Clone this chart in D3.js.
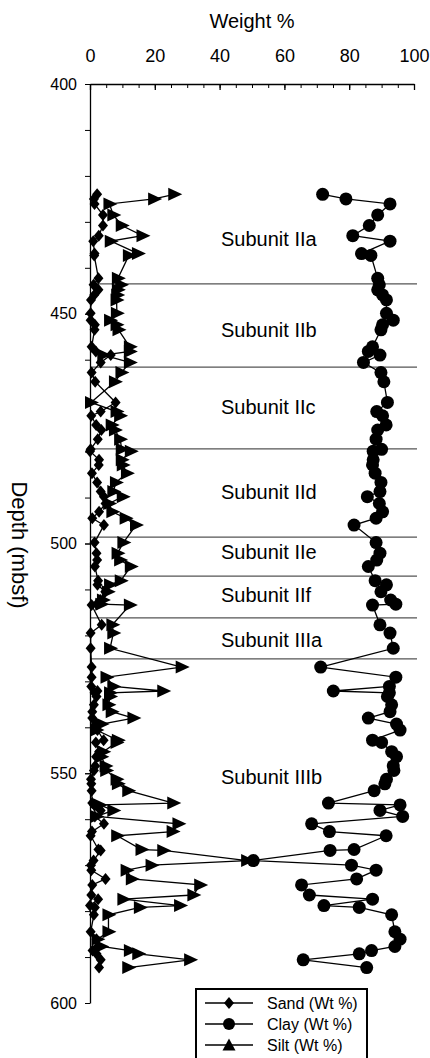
<!DOCTYPE html>
<html>
<head>
<meta charset="utf-8">
<script src="https://cdn.jsdelivr.net/npm/d3@7"></script>
<style>
    body { margin: 0; background: #fff; }
    svg { display: block; font-family: Arial, "Liberation Sans", sans-serif; }
</style>
</head>
<body>
<svg></svg>
<script>
const width = 430;
const height = 1058;

// sample depth (mbsf) and grain size fractions (wt %)
const depth = [424.0, 425.0, 426.1, 428.5, 430.8, 433.0, 434.2, 436.9, 437.3, 442.3,
    443.7, 444.8, 445.9, 447.0, 449.9, 451.4, 452.4, 453.5, 457.2, 458.2,
    459.0, 460.6, 462.8, 464.8, 469.3, 471.3, 472.2, 474.2, 475.3, 477.3,
    479.5, 479.9, 481.8, 482.9, 484.7, 486.7, 488.7, 489.8, 491.3, 493.1,
    494.5, 496.0, 499.8, 502.1, 503.6, 505.0, 508.1, 509.0, 510.5, 512.3,
    513.2, 513.4, 517.7, 519.5, 522.8, 526.9, 529.1, 531.1, 532.1, 532.5,
    533.3, 535.1, 536.6, 538.0, 539.3, 540.6, 542.8, 543.3, 545.3, 546.4,
    548.4, 549.4, 551.3, 552.3, 553.8, 556.5, 556.9, 558.1, 559.4, 561.0,
    562.7, 563.6, 566.6, 566.8, 569.0, 570.0, 571.1, 573.0, 574.3, 576.5,
    577.4, 578.8, 579.2, 580.8, 584.5, 586.1, 587.7, 588.6, 589.3, 590.6,
    592.3];

const sand = [2.2, 1.2, 1.4, 4.0, 4.0, 2.7, 1.0, 1.4, 1.3, 2.6,
    1.1, 2.6, 1.3, 0.3, 0.2, 0.2, 1.5, 1.4, 0.5, 1.8,
    6.4, 3.3, 0.5, 1.6, 7.9, 3.3, 0.4, 1.9, 3.5, 2.4,
    0.2, 0.0, 2.8, 2.7, 0.6, 2.2, 3.3, 4.3, 4.8, 2.8,
    0.7, 4.3, 1.4, 2.0, 2.2, 1.5, 2.5, 2.3, 4.7, 3.2,
    2.1, 0.5, 3.6, 0.2, 0.2, 0.5, 0.5, 0.4, 2.3, 1.4,
    2.0, 1.2, 0.7, 0.7, 1.8, 2.3, 4.2, 1.8, 2.8, 1.9,
    1.6, 1.2, 0.3, 0.4, 0.5, 0.7, 1.3, 3.3, 1.5, 4.3,
    0.6, 0.2, 2.6, 3.3, 1.1, 0.3, 0.4, 4.8, 0.7, 0.4,
    2.5, 0.0, 1.5, 1.2, 0.2, 2.0, 2.4, 0.8, 2.0, 3.3,
    2.8];

const clay = [71.8, 79.0, 92.6, 88.8, 86.2, 81.1, 92.6, 83.8, 86.7, 88.8,
    89.3, 88.8, 90.3, 91.5, 91.5, 93.6, 90.3, 89.8, 87.2, 85.9,
    89.5, 84.4, 89.8, 90.7, 91.8, 88.5, 90.3, 91.4, 88.8, 88.3,
    90.0, 87.4, 87.4, 87.2, 88.0, 89.8, 89.5, 85.6, 89.3, 90.3,
    88.3, 81.5, 88.3, 89.5, 88.5, 85.9, 88.0, 91.5, 89.8, 92.8,
    94.4, 87.2, 89.5, 92.6, 93.6, 71.2, 94.4, 92.4, 75.1, 92.4,
    91.8, 93.1, 92.6, 85.9, 94.6, 95.7, 87.2, 90.0, 93.1, 94.6,
    93.6, 93.8, 91.5, 91.0, 87.7, 73.6, 95.7, 89.5, 96.5, 68.4,
    73.9, 91.4, 81.5, 74.1, 50.4, 80.7, 88.3, 82.3, 65.3, 67.7,
    87.2, 72.2, 83.1, 93.1, 94.1, 95.7, 94.1, 86.9, 83.1, 65.8,
    85.4];

const silt = [26.0, 19.8, 6.0, 7.2, 9.8, 16.2, 6.4, 14.8, 12.0, 8.6,
    9.6, 8.6, 8.4, 8.2, 8.3, 6.2, 8.2, 8.8, 12.3, 12.3,
    4.1, 12.3, 9.7, 7.7, 0.3, 8.2, 9.3, 6.7, 7.7, 9.3,
    9.8, 12.6, 9.8, 10.1, 11.4, 8.0, 7.2, 10.1, 5.9, 6.9,
    11.0, 14.2, 10.3, 8.5, 9.3, 12.6, 9.5, 6.2, 5.5, 4.0,
    3.5, 12.3, 6.9, 7.2, 6.2, 28.3, 5.1, 7.2, 22.6, 6.2,
    6.2, 5.7, 6.7, 13.4, 3.6, 2.0, 8.6, 8.2, 4.1, 3.5,
    4.8, 5.0, 8.2, 8.6, 11.8, 25.7, 3.0, 7.2, 2.0, 27.3,
    25.5, 8.4, 15.9, 22.6, 48.5, 19.0, 11.3, 12.9, 34.0, 31.9,
    10.3, 27.8, 15.4, 5.7, 5.7, 2.3, 3.5, 12.3, 14.9, 30.9,
    11.8];

const xTickLabels = [0, 20, 40, 60, 80, 100];
const yTickLabels = [400, 450, 500, 550, 600];

const subunits = ["Subunit IIa", "Subunit IIb", "Subunit IIc", "Subunit IId",
    "Subunit IIe", "Subunit IIf", "Subunit IIIa", "Subunit IIIb"];
const subunitLabelDepth = [433.7, 453.5, 470.3, 488.8, 501.8, 511.2, 521.0, 550.8];
const boundaries = [443.5, 461.6, 479.4, 498.6, 507.1, 516.2, 525.1];

const seriesNames = ["Sand (Wt %)", "Clay (Wt %)", "Silt (Wt %)"];

const diamond = "M0,-6L5,0L0,6L-5,0Z";
const triRight = "M-6,-6.5L8,0L-6,6.5Z";
const triUp = "M0,-6.5L6.5,5.5L-6.5,5.5Z";

function makeChart() {

    const svg = d3.select("svg")
        .attr("width", width)
        .attr("height", height);

    const x = d3.scaleLinear().domain([0, 100]).range([90, 414]);
    const y = d3.scaleLinear().domain([400, 600]).range([84, 1003]);

    const rows = depth.map((d, i) => ({ depth: d, sand: sand[i], clay: clay[i], silt: silt[i] }));

    // subunit boundaries
    svg.append("g")
        .selectAll("line")
        .data(boundaries)
        .join("line")
        .attr("x1", x(0))
        .attr("x2", x(100) + 3)
        .attr("y1", d => y(d))
        .attr("y2", d => y(d))
        .attr("stroke", "#555")
        .attr("stroke-width", 1.2);

    svg.append("g")
        .selectAll("text")
        .data(subunits)
        .join("text")
        .attr("x", 221)
        .attr("y", (d, i) => y(subunitLabelDepth[i]))
        .attr("dy", "0.35em")
        .attr("font-size", 20)
        .text(d => d);

    // x axis on top, ticks pointing into the plot
    svg.append("g")
        .attr("transform", `translate(0,${y(400)})`)
        .call(d3.axisTop(x).tickValues(d3.range(0, 101, 5)).tickSize(-4).tickSizeOuter(0).tickFormat(""))
        .call(g => g.select(".domain").attr("stroke-width", 1.3));

    svg.append("g")
        .attr("transform", `translate(0,${y(400)})`)
        .call(d3.axisTop(x).tickValues(xTickLabels).tickSize(-6).tickSizeOuter(0).tickPadding(22))
        .call(g => g.select(".domain").remove())
        .call(g => g.selectAll(".tick line").attr("stroke-width", 1.3))
        .call(g => g.selectAll("text").attr("font-size", 18).attr("font-family", null).attr("fill", "#000"));

    // y axis
    svg.append("g")
        .attr("transform", `translate(${x(0)},0)`)
        .call(d3.axisLeft(y).tickValues(d3.range(400, 601, 10)).tickSize(5).tickSizeOuter(0).tickFormat(""))
        .call(g => g.select(".domain").attr("stroke-width", 1.3));

    svg.append("g")
        .attr("transform", `translate(${x(0)},0)`)
        .call(d3.axisLeft(y).tickValues(yTickLabels).tickSize(5).tickSizeOuter(0).tickPadding(8))
        .call(g => g.select(".domain").remove())
        .call(g => g.selectAll("text").attr("font-size", 16).attr("font-family", null).attr("fill", "#000"));

    svg.append("text")
        .attr("x", (x(0) + x(100)) / 2)
        .attr("y", 28)
        .attr("text-anchor", "middle")
        .attr("font-size", 20)
        .text("Weight %");

    svg.append("text")
        .attr("transform", "translate(12,545) rotate(90)")
        .attr("text-anchor", "middle")
        .attr("font-size", 22)
        .text("Depth (mbsf)");

    const series = [
        { key: "sand", shape: d => d.append("path").attr("d", diamond) },
        { key: "silt", shape: d => d.append("path").attr("d", triRight) },
        { key: "clay", shape: d => d.append("circle").attr("r", 6.5) }
    ];

    series.forEach(s => {
        const line = d3.line()
            .x(d => x(d[s.key]))
            .y(d => y(d.depth));

        svg.append("path")
            .datum(rows)
            .attr("fill", "none")
            .attr("stroke", "#000")
            .attr("stroke-width", 1.3)
            .attr("d", line);

        svg.append("g")
            .selectAll("g")
            .data(rows)
            .join("g")
            .attr("transform", d => `translate(${x(d[s.key])},${y(d.depth)})`)
            .call(s.shape)
            .attr("fill", "#000");
    });

    // legend, bottom edge runs off the picture
    const legend = svg.append("g")
        .attr("transform", "translate(196,989)");

    legend.append("rect")
        .attr("width", 171)
        .attr("height", 90)
        .attr("fill", "#fff")
        .attr("stroke", "#000")
        .attr("stroke-width", 2);

    const legendShapes = [
        g => g.append("path").attr("d", diamond),
        g => g.append("circle").attr("r", 6),
        g => g.append("path").attr("d", triUp)
    ];

    seriesNames.forEach((name, i) => {
        const row = legend.append("g")
            .attr("transform", `translate(0,${14 + i * 21})`);
        row.append("line")
            .attr("x1", 9).attr("x2", 57)
            .attr("stroke", "#000")
            .attr("stroke-width", 1.3);
        row.append("g")
            .attr("transform", "translate(33,0)")
            .call(legendShapes[i]);
        row.append("text")
            .attr("x", 71)
            .attr("dy", "0.35em")
            .attr("font-size", 16)
            .text(name);
    });
}

makeChart();
</script>
</body>
</html>
